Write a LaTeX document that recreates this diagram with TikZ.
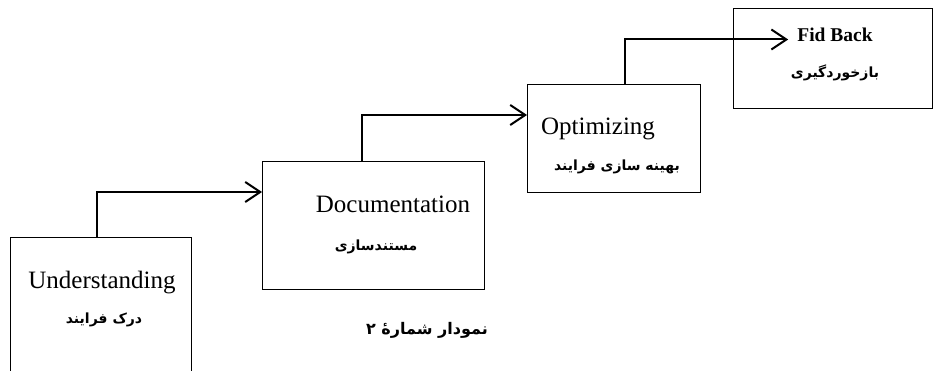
\documentclass[tikz,border=0pt]{standalone}
\usepackage{fontspec}
\setmainfont{Liberation Serif}
\newfontfamily\fa[Script=Arabic]{DejaVu Sans}
\TeXXeTstate=1
\usetikzlibrary{arrows.meta,calc}
\begin{document}
\begin{tikzpicture}[x=1pt,y=-1pt,
  box/.style={draw, line width=0.9pt, rectangle, inner sep=0pt, anchor=north west},
  conn/.style={line width=2pt, -{Straight Barb[length=15pt,width=20pt,line width=2pt]}},
  en/.style={font=\fontsize{25}{30}\selectfont, inner sep=0pt, anchor=base},
  fb/.style={font=\bfseries\fontsize{19.5}{24}\selectfont, inner sep=0pt, anchor=base},
  fatext/.style={font=\fa\bfseries\fontsize{14}{17}\selectfont, inner sep=0pt}]
\clip (0,0) rectangle (933,371);
\fill[white] (0,0) rectangle (933,371);

% the four stage boxes
\node[box, minimum width=181pt, minimum height=160pt] (u) at (10,237) {};
\node[box, minimum width=222pt, minimum height=128pt] (d) at (262,161) {};
\node[box, minimum width=173pt, minimum height=108pt] (o) at (527,84) {};
\node[box, minimum width=199pt, minimum height=100pt] (f) at (733,8) {};

% labels
\node[en] (ut) at (102,288) {Understanding};
\node[fatext] (uf) at (104,320) {\beginR درک فرایند\endR};
\node[en] (dt) at (393,212) {Documentation};
\node[fatext] (df) at (376,247) {\beginR مستندسازی\endR};
\node[en] (ot) at (598,135) {Optimizing};
\node[fatext] (of) at (617,167) {\beginR بهینه سازی فرایند\endR};
\node[fb] (ft) at (835,42) {Fid Back};
\node[fatext] (ff) at (835,73) {\beginR بازخوردگیری\endR};

% caption
\node[font=\fa\bfseries\fontsize{16}{20}\selectfont, inner sep=0pt] (cap) at (427,330) {\beginR نمودار شمارهٔ ۲\endR};

% step connectors
\draw[conn] ([xshift=87pt]u.north west) |- ([yshift=-31pt]d.north west);
\draw[conn] ([xshift=100pt]d.north west) |- ([yshift=-31pt]o.north west);
\draw[conn] ([xshift=98pt]o.north west) |- ([xshift=-9pt,yshift=2.5pt]ft.base west);
\end{tikzpicture}
\end{document}
